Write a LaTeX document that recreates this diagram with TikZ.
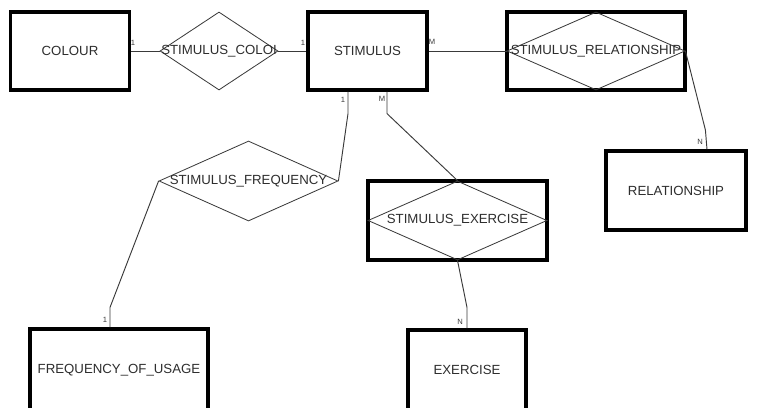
\documentclass[tikz,border=0pt]{standalone}
\usepackage{fontspec}
\setmainfont{Liberation Sans}
\usepackage{tikz}
\usetikzlibrary{shapes.geometric, positioning, calc}
\definecolor{erline}{HTML}{3A3A3A}
\definecolor{ertext}{HTML}{2E2E2E}

\begin{document}
\begin{tikzpicture}[x=0.03cm, y=-0.03cm,
    entity/.style={draw=black, line width=2.7pt, rectangle, inner sep=0pt, text=ertext, font=\fontsize{11.3}{11.3}\selectfont},
    relation/.style={draw=erline, line width=0.7pt, diamond, inner sep=0pt},
    rellabel/.style={text=ertext, font=\fontsize{11.3}{11.3}\selectfont},
    link/.style={draw=erline, line width=0.8pt},
    card/.style={text=erline, inner sep=0pt, font=\fontsize{6.5}{6.5}\selectfont}]
  \useasboundingbox (0,0) rectangle (775,407);
  \clip (0,0) rectangle (775,407);
  \fill[white] (0,0) rectangle (775,407);

  % entities
  \node[entity, minimum width=3.57cm, minimum height=2.34cm] (colour) at (70,51) {COLOUR};
  \node[entity, minimum width=3.57cm, minimum height=2.34cm] (stimulus) at (367.5,51) {STIMULUS};
  \node[entity, minimum width=4.2cm, minimum height=2.37cm] (relationship) at (676,190.5) {RELATIONSHIP};
  \node[entity, minimum width=5.34cm, minimum height=2.46cm] (frequency) at (119,370) {FREQUENCY\_OF\_USAGE};
  \node[entity, minimum width=3.54cm, minimum height=2.4cm] (exercise) at (467,370) {EXERCISE};

  % associative entities
  \node[entity, minimum width=5.34cm, minimum height=2.34cm] (stimrelbox) at (596,51) {};
  \node[entity, minimum width=5.37cm, minimum height=2.37cm] (exrelbox) at (457.5,220.5) {};

  % relationships
  \node[relation, minimum width=3.54cm, minimum height=2.34cm] (colourrel) at (219,51) {};
  \node[rellabel] at (colourrel) {STIMULUS\_COLOI};
  \node[relation, minimum width=5.34cm, minimum height=2.34cm] (stimrel) at (596,51) {};
  \node[rellabel] at (stimrel) {STIMULUS\_RELATIONSHIP};
  \node[relation, minimum width=5.37cm, minimum height=2.4cm] (freqrel) at (248.5,181) {};
  \node[rellabel] at (freqrel) {STIMULUS\_FREQUENCY};
  \node[relation, minimum width=5.37cm, minimum height=2.37cm] (exrel) at (457.5,220.5) {};
  \node[rellabel] at (exrel) {STIMULUS\_EXERCISE};

  % connectors
  \coordinate (stimS1) at ($(stimulus.south)+(-19.5,0)$);
  \coordinate (stimSM) at ($(stimulus.south)+(19.5,0)$);
  \coordinate (relN) at ($(relationship.north)+(31,0)$);
  \coordinate (freqN) at ($(frequency.north)+(-9,0)$);

  \draw[link] (colour.east) -- (colourrel.west);
  \draw[link] (colourrel.east) -- (stimulus.west);
  \draw[link] (stimulus.east) -- (stimrel.west);
  \draw[link] (stimrel.east) -- ++(20,79) -- (relN);
  \draw[link] (stimS1) -- ++(0,22) -- (freqrel.east);
  \draw[link] (freqrel.west) -- ($(freqN)+(0,-20)$) -- (freqN);
  \draw[link] (stimSM) -- ++(0,22) -- (exrel.north);
  \draw[link] (exrel.south) -- ($(exercise.north)+(0,-21)$) -- (exercise.north);

  % cardinalities
  \node[card] (c1) at (133,43) {1};
  \node[card] (c2) at (303,43) {1};
  \node[card] (c3) at (432,42) {M};
  \node[card] (c4) at (700,142) {N};
  \node[card] (c5) at (343,100) {1};
  \node[card] (c6) at (382,99) {M};
  \node[card] (c7) at (105,320) {1};
  \node[card] (c8) at (460,322) {N};
\end{tikzpicture}
\end{document}
